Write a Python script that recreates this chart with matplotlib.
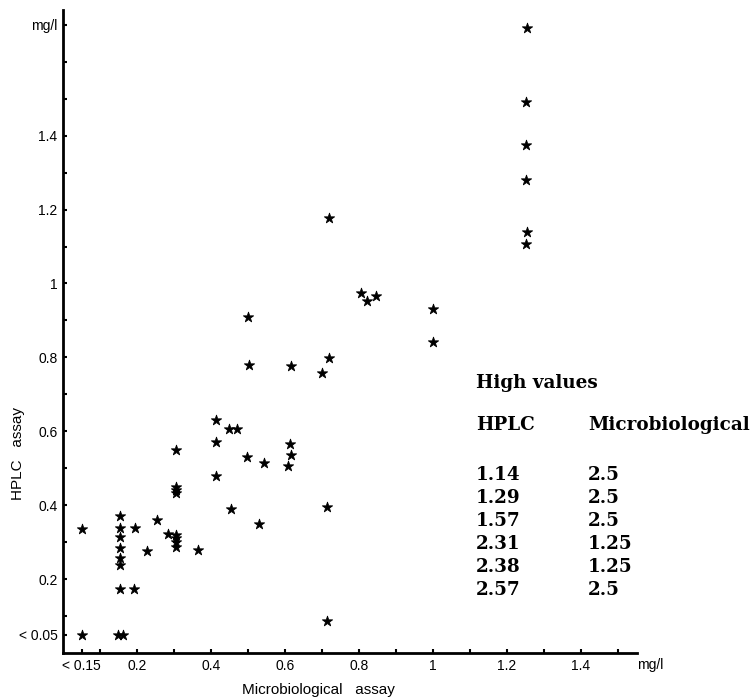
import matplotlib
matplotlib.use('Agg')
import matplotlib.pyplot as plt

# microbiological assay (x) vs HPLC assay (y), mg/l
micro = [0.05, 0.05,
         0.155, 0.155, 0.155, 0.155, 0.155, 0.155, 0.155,
         0.148, 0.163, 0.194, 0.193, 0.227, 0.253, 0.283,
         0.305, 0.305, 0.305, 0.305, 0.305, 0.305, 0.305, 0.305,
         0.366, 0.413, 0.413, 0.413, 0.449, 0.471, 0.455,
         0.497, 0.503, 0.500, 0.531, 0.544,
         0.608, 0.613, 0.616, 0.617,
         0.700, 0.719, 0.714, 0.714, 0.719,
         0.805, 0.822, 0.845, 1.0, 1.0,
         1.253, 1.25, 1.25, 1.25, 1.253, 1.25]
hplc = [0.335, 0.05,
        0.37, 0.338, 0.315, 0.285, 0.258, 0.237, 0.172,
        0.05, 0.05, 0.338, 0.172, 0.276, 0.36, 0.322,
        0.55, 0.45, 0.442, 0.433, 0.32, 0.31, 0.30, 0.288,
        0.279, 0.63, 0.572, 0.48, 0.605, 0.605, 0.391,
        0.53, 0.778, 0.91, 0.35, 0.513,
        0.507, 0.565, 0.535, 0.777,
        0.757, 0.797, 0.396, 0.086, 1.178,
        0.974, 0.952, 0.965, 0.93, 0.842,
        1.69, 1.49, 1.376, 1.28, 1.138, 1.108]

high_hplc = ['1.14', '1.29', '1.57', '2.31', '2.38', '2.57']
high_micro = ['2.5', '2.5', '2.5', '1.25', '1.25', '2.5']

x_ticks = [0.05, 0.1, 0.2, 0.3, 0.4, 0.5, 0.6, 0.7, 0.8, 0.9, 1.0, 1.1, 1.2, 1.3, 1.4, 1.5]
x_labels = ['< 0.15', '', '0.2', '', '0.4', '', '0.6', '', '0.8', '', '1', '', '1.2', '', '1.4', '']
y_ticks = [0.05, 0.1, 0.2, 0.3, 0.4, 0.5, 0.6, 0.7, 0.8, 0.9, 1.0, 1.1, 1.2, 1.3, 1.4, 1.5, 1.6, 1.7]
y_labels = ['< 0.05', '', '0.2', '', '0.4', '', '0.6', '', '0.8', '', '1', '', '1.2', '', '1.4', '', '', 'mg/l']

W, H = 753, 699
fig = plt.figure(figsize=(W / 100, H / 100), dpi=100)
ax = fig.add_axes([63 / W, 46 / H, 573.5 / W, 643 / H])

ax.scatter(micro, hplc, marker='*', s=60, color='black', linewidths=0.6, zorder=3)

ax.set_xlim(0, 1.55)
ax.set_ylim(0, 1.74)
ax.set_xticks(x_ticks)
ax.set_xticklabels(x_labels, fontsize=10, family='Liberation Sans')
ax.set_yticks(y_ticks)
ax.set_yticklabels(y_labels, fontsize=10, family='Liberation Sans')
ax.tick_params(direction='in', length=3, width=1.5, pad=4)

for side in ['top', 'right']:
    ax.spines[side].set_visible(False)
for side in ['left', 'bottom']:
    ax.spines[side].set_linewidth(2)

fig.text(318 / W, 1 - 690 / H, 'Microbiological   assay', ha='center', va='center',
         fontsize=11, family='Liberation Sans')
fig.text(18 / W, 1 - 454 / H, 'HPLC   assay', ha='center', va='center', rotation=90,
         fontsize=11, family='Liberation Sans')
fig.text(650 / W, 1 - 665 / H, 'mg/l', ha='center', va='center',
         fontsize=10, family='Liberation Sans')

# high values table
tfont = dict(family='DejaVu Serif', weight='bold', fontsize=13.2, va='center', ha='left')
fig.text(476 / W, 1 - 383 / H, 'High values', **tfont)
fig.text(476 / W, 1 - 425 / H, 'HPLC', **tfont)
fig.text(588 / W, 1 - 425 / H, 'Microbiological', **tfont)
for i in range(len(high_hplc)):
    yy = 475 + 23 * i
    fig.text(476 / W, 1 - yy / H, high_hplc[i], **tfont)
    fig.text(588 / W, 1 - yy / H, high_micro[i], **tfont)

fig.savefig('out.png', dpi=100)
